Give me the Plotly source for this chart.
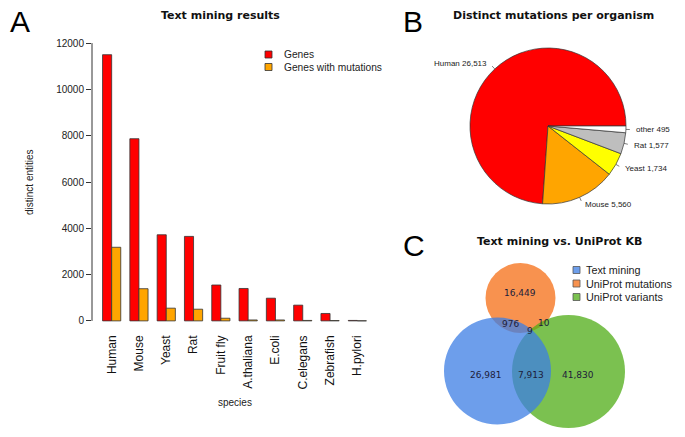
import math
import plotly.graph_objects as go

# ---------------- data ----------------
species = ["Human", "Mouse", "Yeast", "Rat", "Fruit fly", "A.thaliana",
           "E.coli", "C.elegans", "Zebrafish", "H.pylori"]
genes = [11500, 7870, 3720, 3650, 1550, 1400, 980, 680, 320, 20]
genes_mut = [3180, 1390, 550, 505, 115, 40, 40, 20, 15, 5]
y_ticks = [0, 2000, 4000, 6000, 8000, 10000, 12000]

pie_labels = ["Human", "Mouse", "Yeast", "Rat", "other"]
pie_values = [26513, 5560, 1734, 1577, 495]
pie_colors = ["#ff0000", "#ffa500", "#ffff00", "#bebebe", "#ffffff"]

venn_sets = ["Text mining", "UniProt mutations", "UniProt variants"]
venn_regions = ["TM only", "UM only", "UV only", "TM&UM", "TM&UV", "UM&UV", "all"]
venn_counts = [26981, 16449, 41830, 976, 7913, 10, 9]

W, H = 685, 437
def PX(x): return x / W
def PY(y): return 1 - y / H

fig = go.Figure()

# ---------------- Panel A: bars ----------------
fig.add_trace(go.Bar(x=species, y=genes, name="Genes", marker=dict(color="#ff0000", line=dict(color="#333333", width=0.8)),
                     xaxis="x", yaxis="y", showlegend=False))
fig.add_trace(go.Bar(x=species, y=genes_mut, name="Genes with mutations",
                     marker=dict(color="#ffa500", line=dict(color="#333333", width=0.8)),
                     xaxis="x", yaxis="y", showlegend=False))

# ---------------- Panel B: pie ----------------
pcx, pcy, pr = 548, 126, 78
total = sum(pie_values)
# R pie: first slice starts at 3 o'clock, counter-clockwise.
# Plotly (ccw): rotation marks the boundary between first and second slice.
rot = 90 - 360 * pie_values[0] / total
fig.add_trace(go.Pie(labels=pie_labels, values=pie_values, sort=False, direction="counterclockwise",
                     rotation=rot, textinfo="none", hoverinfo="label+value",
                     marker=dict(colors=pie_colors, line=dict(color="#333333", width=0.7)),
                     domain=dict(x=[PX(pcx - pr), PX(pcx + pr)], y=[PY(pcy + pr), PY(pcy - pr)]),
                     showlegend=False))

shapes = []
annotations = []
cum = 0
for lab, v in zip(pie_labels, pie_values):
    mid = (cum + v / 2) / total * 2 * math.pi
    cum += v
    c, s = math.cos(mid), math.sin(mid)
    shapes.append(dict(type="line", xref="paper", yref="paper",
                       x0=PX(pcx + pr * c), y0=PY(pcy - pr * s),
                       x1=PX(pcx + 1.05 * pr * c), y1=PY(pcy - 1.05 * pr * s),
                       line=dict(color="#444444", width=0.7)))
    annotations.append(dict(xref="paper", yref="paper", x=PX(pcx + 1.1 * pr * c), y=PY(pcy - 1.1 * pr * s),
                            text=f"{lab} {v:,}", showarrow=False,
                            xanchor="left" if c > 0 else "right", yanchor="middle",
                            font=dict(size=8, color="#222222", family="Liberation Sans, Arial")))

# ---------------- Panel C: Venn ----------------
vx0, vx1, vy0, vy1 = 430, 640, 255, 435
def VY(py):  # pixel y to venn axis coordinate
    return H - py
circles = [  # drawn bottom to top: mutations, variants, text mining
    (1, 520.5, 298, 35, "rgba(245,110,20,0.75)"),
    (2, 568.5, 371.5, 56.5, "rgba(79,172,22,0.75)"),
    (0, 497.5, 371, 53.5, "rgba(60,126,228,0.75)"),
]
for idx, cx, cy, r, col in circles:
    shapes.append(dict(type="circle", xref="x2", yref="y2", x0=cx - r, x1=cx + r,
                       y0=VY(cy + r), y1=VY(cy - r), fillcolor=col, line=dict(width=0), layer="above"))
venn_pos = [(485.5, 375), (520, 293), (578, 375), (510, 324), (531, 375), (544, 323), (530, 331)]
for cnt, (x, y) in zip(venn_counts, venn_pos):
    annotations.append(dict(xref="x2", yref="y2", x=x, y=VY(y), text=f"{cnt:,}", showarrow=False,
                            font=dict(size=9, color="#1c1c3a", family="DejaVu Sans")))

# Venn legend
leg_cols = ["#6d9eeb", "#f7924f", "#7bc150"]
for i, (name, col) in enumerate(zip(venn_sets, leg_cols)):
    yc = 270 + i * 13.5
    shapes.append(dict(type="rect", xref="paper", yref="paper", x0=PX(573), x1=PX(580),
                       y0=PY(yc + 3.5), y1=PY(yc - 3.5), fillcolor=col, line=dict(color="#555555", width=0.8)))
    annotations.append(dict(xref="paper", yref="paper", x=PX(584), y=PY(yc), text=name, showarrow=False,
                            xanchor="left", yanchor="middle",
                            font=dict(size=10.8, color="#222222", family="Liberation Sans, Arial")))

# Bar legend
for i, (name, col) in enumerate(zip(["Genes", "Genes with mutations"], ["#ff0000", "#ffa500"])):
    yc = 54.5 + i * 12.5
    shapes.append(dict(type="rect", xref="paper", yref="paper", x0=PX(265), x1=PX(272),
                       y0=PY(yc + 3.5), y1=PY(yc - 3.5), fillcolor=col, line=dict(color="#333333", width=0.8)))
    annotations.append(dict(xref="paper", yref="paper", x=PX(282), y=PY(yc), text=name, showarrow=False,
                            xanchor="left", yanchor="middle",
                            font=dict(size=10.2, color="#222222", family="Liberation Sans, Arial")))

# y axis line (R style, spanning tick range only)
shapes.append(dict(type="line", xref="x domain", yref="y", x0=0, x1=0, y0=y_ticks[0], y1=y_ticks[-1],
                   line=dict(color="#333333", width=1)))

# titles and panel letters
def txt(x, y, s, size, bold=False, family="DejaVu Sans", angle=0, color="#111111"):
    annotations.append(dict(xref="paper", yref="paper", x=PX(x), y=PY(y), text=f"<b>{s}</b>" if bold else s,
                            showarrow=False, xanchor="center", yanchor="middle", textangle=angle,
                            font=dict(size=size, color=color, family=family)))

txt(220, 15, "Text mining results", 11, bold=True)
txt(553, 15, "Distinct mutations per organism", 11, bold=True)
txt(559, 241, "Text mining vs. UniProt KB", 11, bold=True)
txt(20, 22, "A", 30, family="Liberation Sans, Arial", color="#000000")
txt(413, 22, "B", 30, family="Liberation Sans, Arial", color="#000000")
txt(414, 246, "C", 30, family="Liberation Sans, Arial", color="#000000")
txt(235, 402, "species", 10, family="Liberation Sans, Arial", color="#222222")
txt(29, 182, "distinct entities", 10, family="Liberation Sans, Arial", angle=-90, color="#222222")

fig.update_layout(
    width=W, height=H, margin=dict(l=0, r=0, t=0, b=0),
    paper_bgcolor="white", plot_bgcolor="white",
    barmode="group", bargap=1/3, bargroupgap=0,
    xaxis=dict(domain=[PX(92), PX(377)], range=[-0.72, 9.72], type="category",
               showgrid=False, zeroline=False, showline=False, ticks="",
               tickangle=-90, tickfont=dict(size=12, color="#111111", family="Liberation Sans, Arial")),
    yaxis=dict(domain=[PY(332), PY(32)], range=[-480, 12480], tickvals=y_ticks, tickformat="d",
               showgrid=False, zeroline=False, showline=False, ticks="outside", ticklen=5,
               tickcolor="#333333", tickfont=dict(size=10, color="#222222", family="Liberation Sans, Arial")),
    xaxis2=dict(domain=[PX(vx0), PX(vx1)], range=[vx0, vx1], visible=False),
    yaxis2=dict(domain=[PY(vy1), PY(vy0)], range=[H - vy1, H - vy0], visible=False, anchor="x2"),
    shapes=shapes, annotations=annotations,
)
fig.write_html("out.html", config={"displayModeBar": False},
               post_script="document.body.style.margin='0';document.body.style.overflow='hidden';")
